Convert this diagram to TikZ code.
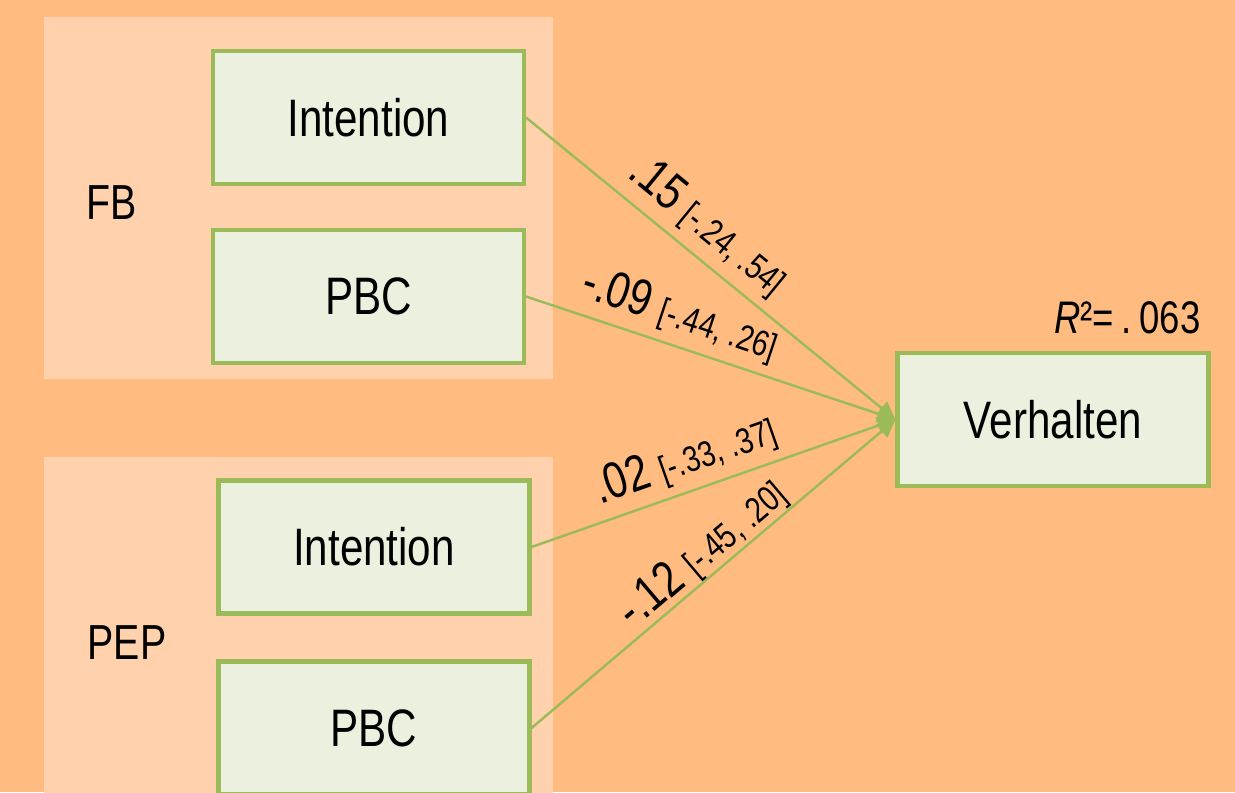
\documentclass[tikz,border=0pt]{standalone}
\usepackage{fontspec}
\setmainfont{Liberation Sans}[FakeStretch=0.8]
\usetikzlibrary{arrows.meta}

\definecolor{bgorange}{HTML}{FFBB80}
\definecolor{panelorange}{HTML}{FFD2AD}
\definecolor{boxfill}{HTML}{EBF1DE}
\definecolor{boxline}{HTML}{9BBB59}

\newcommand{\cibracket}[1]{{\fontsize{20.5}{24}\selectfont #1}}

\tikzset{
  varbox/.style={draw=boxline, fill=boxfill, line width=2.4pt,
    minimum width=6.22cm, minimum height=2.66cm,
    font=\fontsize{30}{36}\selectfont},
  grouplabel/.style={font=\fontsize{28}{34}\selectfont},
  pathline/.style={draw=boxline, line width=1.4pt,
    -{Triangle[length=0.36cm,width=0.34cm]}},
  coef/.style={sloped, above, inner sep=5pt, font=\fontsize{29}{34}\selectfont}
}

\begin{document}
\begin{tikzpicture}[x=0.02cm, y=-0.02cm]

    % page and the two group panels
    \fill[bgorange] (0,0) rectangle (1235,792);
    \useasboundingbox (0,0) rectangle (1235,792);
    \fill[panelorange] (44,17) rectangle (553,379);
    \fill[panelorange] (44,457) rectangle (553,800);

    \node[grouplabel] (FB)  at (112,203) {FB};
    \node[grouplabel] (PEP) at (127,643) {PEP};

    % predictors
    \node[varbox] (FB Intention)  at (368.5,117.5) {Intention};
    \node[varbox] (FB PBC)        at (368.5,296.5) {PBC};
    \node[varbox] (PEP Intention) at (374,547)     {Intention};
    \node[varbox] (PEP PBC)       at (374,728)     {PBC};

    % outcome
    \node[varbox] (Verhalten) at (1053,419.5) {Verhalten};
    \node[anchor=south east, inner sep=0pt, font=\fontsize{26}{30}\selectfont]
      (R2) at (1201,334) {\textit{R}²=\,.\,063};

    % paths
    \draw[pathline] (FB Intention.east) -- node[coef, pos=0.44]
      {.15 \cibracket{[-.24, .54]}} (Verhalten.west);
    \draw[pathline] (FB PBC.east) -- node[coef, pos=0.39]
      {-.09 \cibracket{[-.44, .26]}} (Verhalten.west);
    \draw[pathline] (PEP Intention.east) -- node[coef, pos=0.45]
      {.02 \cibracket{[-.33, .37]}} (Verhalten.west);
    \draw[pathline] (PEP PBC.east) -- node[coef, pos=0.51, inner sep=0pt]
      {-.12 \cibracket{[-.45, .20]}} (Verhalten.west);

\end{tikzpicture}
\end{document}
